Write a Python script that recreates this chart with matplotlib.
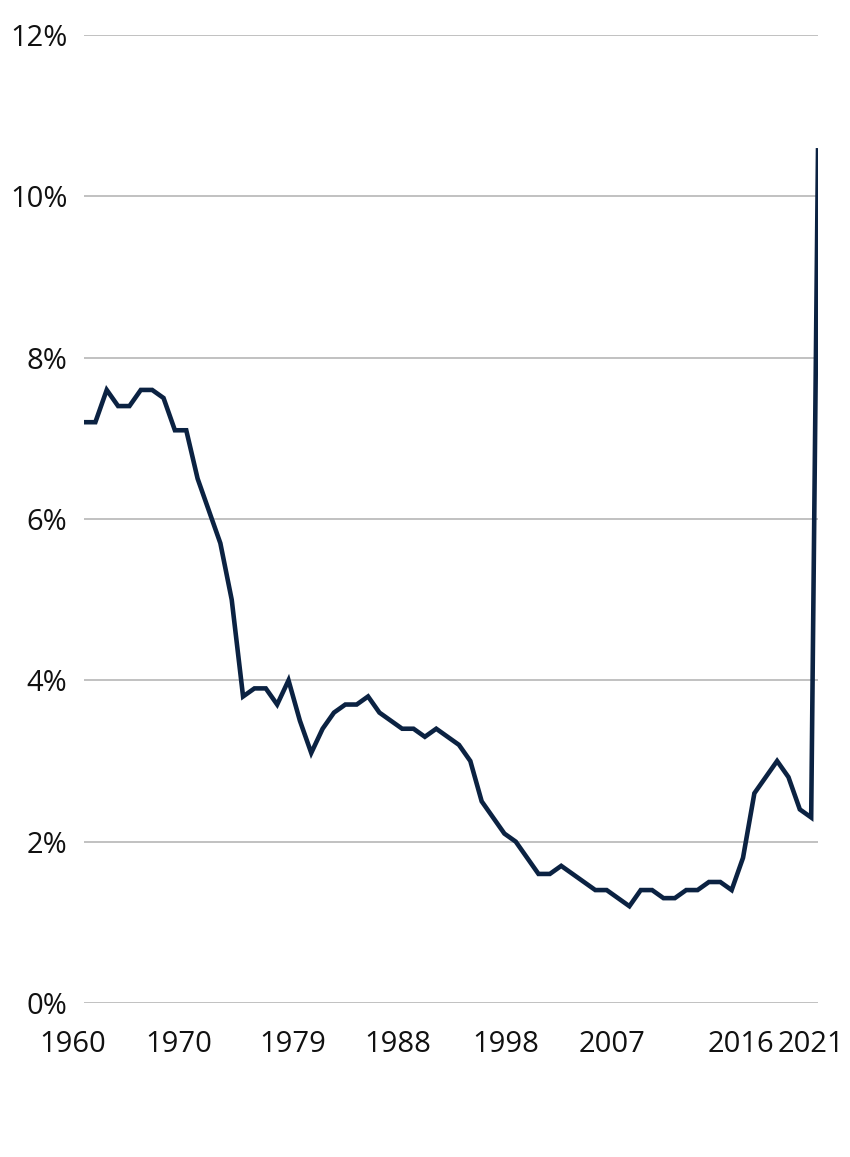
import matplotlib
matplotlib.use('Agg')
import matplotlib.pyplot as plt
import matplotlib.transforms as mtransforms

# annual values 1960-2024, plus the latest reading
years = list(range(1960, 2025)) + [2024.6]
rate = [7.2, 7.2, 7.6, 7.4, 7.4, 7.6, 7.6, 7.5, 7.1, 7.1,
        6.5, 6.1, 5.7, 5.0, 3.8, 3.9, 3.9, 3.7, 4.0, 3.5,
        3.1, 3.4, 3.6, 3.7, 3.7, 3.8, 3.6, 3.5, 3.4, 3.4,
        3.3, 3.4, 3.3, 3.2, 3.0, 2.5, 2.3, 2.1, 2.0, 1.8,
        1.6, 1.6, 1.7, 1.6, 1.5, 1.4, 1.4, 1.3, 1.2, 1.4,
        1.4, 1.3, 1.3, 1.4, 1.4, 1.5, 1.5, 1.4, 1.8, 2.6,
        2.8, 3.0, 2.8, 2.4, 2.3, 10.57]

x_labels = ['1960', '1970', '1979', '1988', '1998', '2007', '2016', '2021']
x_label_pos = [1959.0, 1968.3, 1978.4, 1987.6, 1997.1, 2006.5, 2017.8, 2024.0]
y_ticks = [0, 2, 4, 6, 8, 10, 12]

plt.rcParams['font.family'] = ['Open Sans', 'DejaVu Sans']

fig = plt.figure(figsize=(8.5, 11.57), dpi=100)
ax = fig.add_axes([84 / 850, 1 - 1003 / 1157, (818 - 84) / 850, (1003 - 35) / 1157])

ax.plot(years, rate, color='#0b2242', linewidth=3.3, solid_joinstyle='miter', zorder=3)

ax.set_xlim(years[0], years[-1])
ax.set_ylim(0, 12)
ax.set_yticks(y_ticks)
ax.set_yticklabels([f'{t}%' for t in y_ticks], fontsize=21, color='#111111')
ax.tick_params(axis='y', length=0, pad=12)
ax.set_xticks([])
ax.grid(axis='y', color='#b0b0b0', linewidth=1.1)
ax.set_axisbelow(True)
for s in ax.spines.values():
    s.set_visible(False)

# category labels under the axis
trans = mtransforms.blended_transform_factory(ax.transData, ax.transAxes)
for lab, pos in zip(x_labels, x_label_pos):
    ax.text(pos, -0.043, lab, transform=trans, ha='center', va='center',
            fontsize=21, color='#111111', clip_on=False)

fig.savefig('out.png', dpi=100, facecolor='white')
